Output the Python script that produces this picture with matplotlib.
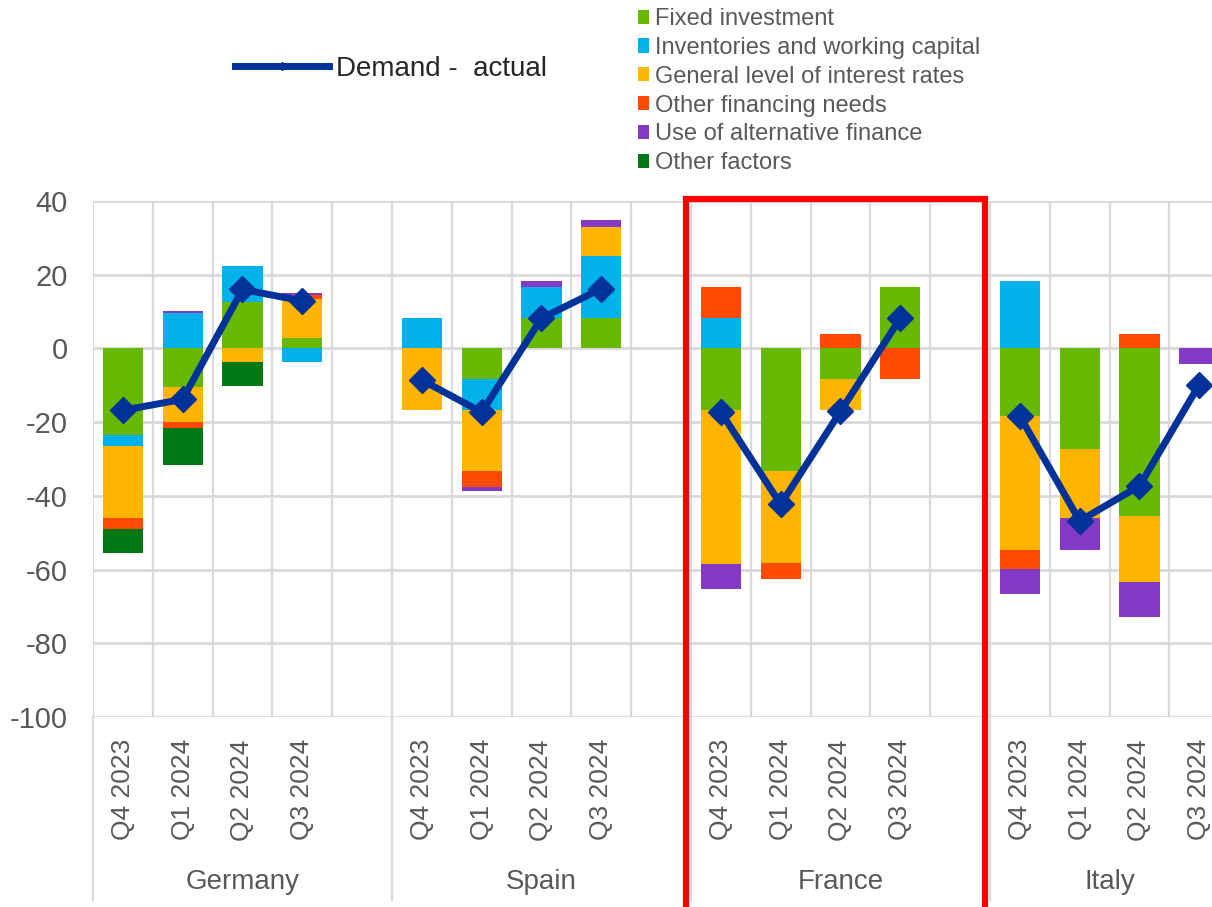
import numpy as np
import matplotlib
matplotlib.use("Agg")
import matplotlib.pyplot as plt
import matplotlib.transforms as mtransforms
from matplotlib.lines import Line2D
from matplotlib.patches import Rectangle

plt.rcParams['font.family'] = ['Liberation Sans', 'DejaVu Sans']
plt.rcParams['axes.unicode_minus'] = False

# ---- data ----
countries = ["Germany", "Spain", "France", "Italy"]
quarters = ["Q4 2023", "Q1 2024", "Q2 2024", "Q3 2024"]

fixed_investment = {
    "Germany": [-23.5, -10.5, 12.7, 2.7],
    "Spain":   [0.0, -8.3, 8.3, 8.3],
    "France":  [-16.7, -33.3, -8.3, 16.7],
    "Italy":   [-18.2, -27.3, -45.5, 0.0],
}
inventories = {
    "Germany": [-3.0, 9.5, 9.8, -3.6],
    "Spain":   [8.3, -8.3, 8.3, 16.7],
    "France":  [8.3, 0.0, 0.0, 0.0],
    "Italy":   [18.2, 0.0, 0.0, 0.0],
}
interest_rates = {
    "Germany": [-19.5, -9.4, -3.6, 10.7],
    "Spain":   [-16.7, -16.7, 0.0, 8.0],
    "France":  [-41.7, -25.0, -8.3, 0.0],
    "Italy":   [-36.6, -18.8, -18.0, 0.0],
}
other_financing = {
    "Germany": [-3.0, -1.8, 0.0, 1.1],
    "Spain":   [0.0, -4.4, 0.0, 0.0],
    "France":  [8.3, -4.3, 3.8, -8.3],
    "Italy":   [-5.0, 0.0, 3.8, 0.0],
}
alternative_finance = {
    "Germany": [0.0, 0.7, 0.0, 0.6],
    "Spain":   [0.0, -1.1, 1.8, 1.8],
    "France":  [-6.8, 0.0, 0.0, 0.0],
    "Italy":   [-6.7, -8.6, -9.3, -4.1],
}
other_factors = {
    "Germany": [-6.5, -9.9, -6.6, 0.0],
    "Spain":   [0.0, 0.0, 0.0, 0.0],
    "France":  [0.0, 0.0, 0.0, 0.0],
    "Italy":   [0.0, 0.0, 0.0, 0.0],
}
demand_actual = {
    "Germany": [-16.8, -13.8, 16.0, 12.9],
    "Spain":   [-8.6, -17.3, 8.2, 16.2],
    "France":  [-17.3, -42.3, -17.1, 8.2],
    "Italy":   [-18.4, -46.8, -37.3, -9.8],
}

series_labels = ["Fixed investment", "Inventories and working capital",
                 "General level of interest rates", "Other financing needs",
                 "Use of alternative finance", "Other factors"]
series_data = [fixed_investment, inventories, interest_rates,
               other_financing, alternative_finance, other_factors]
series_colors = ["#66B800", "#00B1EA", "#FFB400", "#FF4B00", "#8139C6", "#007816"]

# ---- build slot layout (4 quarters per country, blank slot between countries) ----
slots_per_group = len(quarters) + 1
n_slots = slots_per_group * len(countries) - 1
x = np.arange(n_slots)

def expand(d, fill):
    out = []
    for i, c in enumerate(countries):
        out += list(d[c])
        if i < len(countries) - 1:
            out.append(fill)
    return np.array(out, dtype=float)

tick_labels = []
for i, c in enumerate(countries):
    tick_labels += quarters
    if i < len(countries) - 1:
        tick_labels.append("")

# ---- figure ----
W, H = 1212, 907
fig = plt.figure(figsize=(W / 100, H / 100), dpi=100)
slot_px = 59.8
left_px, top_px, bottom_px = 93, 201, 717
ax = fig.add_axes([left_px / W, 1 - bottom_px / H, 1 - left_px / W,
                   (bottom_px - top_px) / H])

grid_c = "#D9D9D9"
for s in ax.spines.values():
    s.set_visible(False)

# stacked bars
pos_bottom = np.zeros(n_slots)
neg_bottom = np.zeros(n_slots)
bar_handles = []
for lab, d, col in zip(series_labels, series_data, series_colors):
    vals = expand(d, 0.0)
    bottoms = np.where(vals >= 0, pos_bottom, neg_bottom)
    h = ax.bar(x, vals, width=0.67, bottom=bottoms, color=col,
               edgecolor="none", label=lab, zorder=2)
    bar_handles.append(h)
    pos_bottom += np.where(vals > 0, vals, 0)
    neg_bottom += np.where(vals < 0, vals, 0)

# demand line
dem = expand(demand_actual, np.nan)
ax.plot(x, dem, color="#003299", lw=5, marker="D", markersize=13,
        zorder=4, solid_joinstyle="miter")

# ticks
ax.set_yticks(np.arange(-100, 41, 20))
ax.set_xticks(x)
ax.set_xticklabels(tick_labels, rotation=90, fontsize=19, color="#595959",
                   va="top", ha="center")
ax.tick_params(axis="x", length=0, pad=16)
ax.tick_params(axis="y", length=0, pad=18, labelsize=21, labelcolor="#595959")

for yv in np.arange(-100, 41, 20):
    ax.axhline(yv, color=grid_c, lw=2, zorder=0)
for xv in np.arange(-0.5, n_slots + 1.5, 1):
    ax.axvline(xv, color=grid_c, lw=1.6, zorder=0)

# group labels and separators
trans = mtransforms.blended_transform_factory(ax.transData, ax.transAxes)
for i, c in enumerate(countries):
    start = i * slots_per_group
    last = len(countries) - 1
    span = slots_per_group if i < last else len(quarters)
    center = start - 0.5 + span / 2
    ax.text(center, -0.32, c, transform=trans, ha="center", va="center",
            fontsize=20, color="#595959", clip_on=False)
    xs = start - 0.5
    ax.plot([xs, xs], [0, -0.355], transform=trans, color=grid_c, lw=1.6,
            clip_on=False, zorder=0)

ax.set_xlim(-0.5, -0.5 + (W - left_px) / slot_px)
ax.set_ylim(-100, 40)

# legends
leg1 = fig.legend(handles=bar_handles, labels=series_labels,
                  loc="upper left", bbox_to_anchor=(638 / W, 1 - 8 / H),
                  frameon=False, fontsize=17, handlelength=0.45,
                  handleheight=0.55, handletextpad=0.25, labelspacing=0.29,
                  borderaxespad=0, borderpad=0)
for t in leg1.get_texts():
    t.set_color("#595959")
line_handle = Line2D([], [], color="#003299", lw=5, marker="D", markersize=4)
leg2 = fig.legend(handles=[line_handle], labels=["Demand -  actual"],
                  loc="center left", bbox_to_anchor=(235 / W, 1 - 69 / H),
                  frameon=False, fontsize=20, handlelength=3.4,
                  handletextpad=0.25, borderaxespad=0, borderpad=0)
for t in leg2.get_texts():
    t.set_color("#262626")

# red highlight frame around France
fig.add_artist(Rectangle((686 / W, -0.05), (985 - 686) / W, 1 - 199 / H + 0.05,
                         transform=fig.transFigure, fill=False,
                         edgecolor="#FF0000", lw=4.5, clip_on=False, zorder=10))

fig.savefig("out.png", dpi=100)
